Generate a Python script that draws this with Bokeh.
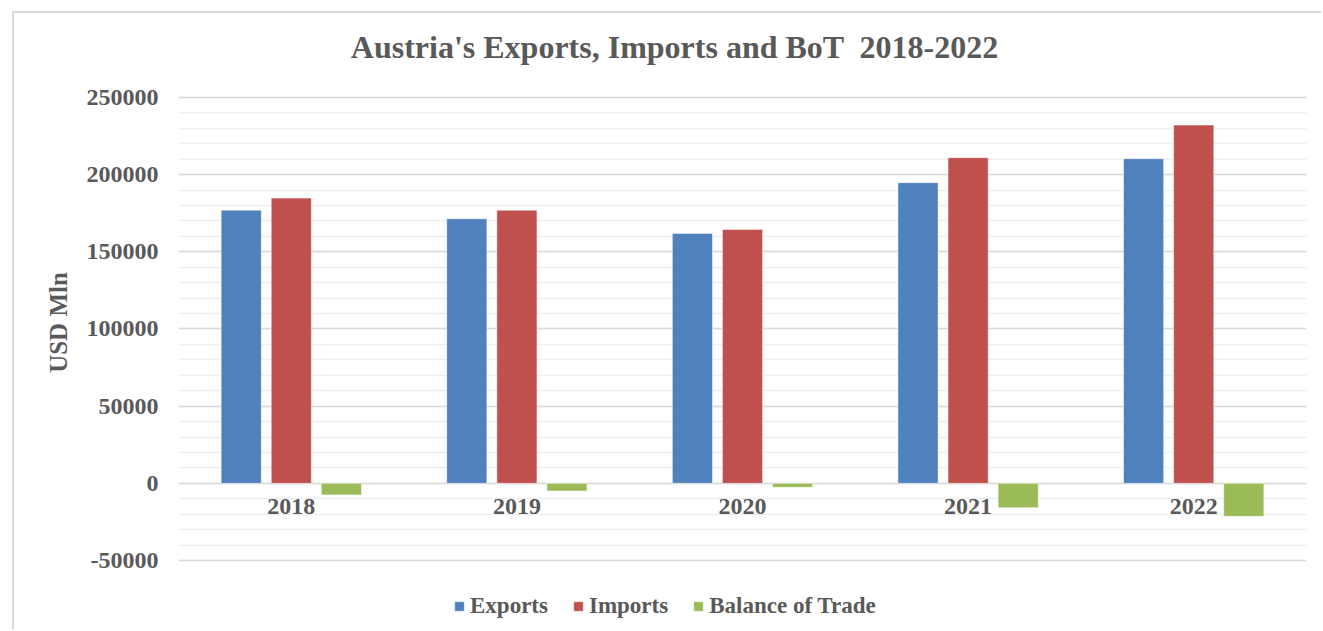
from bokeh.plotting import figure
from bokeh.models import (ColumnDataSource, FactorRange, Range1d, SingleIntervalTicker,
                          NumeralTickFormatter, Legend, LegendItem, Label)
from bokeh.transform import dodge
from bokeh.core.properties import value
from bokeh.embed import file_html
from bokeh.resources import INLINE

years = ["2018", "2019", "2020", "2021", "2022"]
exports = [177000, 171400, 161900, 194800, 210300]
imports = [184800, 177000, 164500, 211000, 232100]
balance = [-7500, -5000, -2600, -15800, -21400]
series_names = ["Exports", "Imports", "Balance of Trade"]
series_colors = ["#4F81BD", "#C0504D", "#9BBB59"]
title_text = "Austria's Exports, Imports and BoT \u00a02018-2022"
y_min, y_max = -50000, 250000

FONT = "Liberation Serif"
TXT = "#595959"

source = ColumnDataSource(dict(years=years, exports=exports, imports=imports, balance=balance,
                               zero=[0] * len(years)))

# the frame spans the full canvas height; grid and axis are bounded to the value range,
# leaving room inside the frame for the title (top) and the legend (bottom)
p = figure(width=1309, height=618, x_range=FactorRange(factors=years, range_padding=0),
           y_range=Range1d(-96000, 304400), output_backend="svg", toolbar_location=None,
           x_axis_location=None, min_border_left=164, min_border_right=17,
           min_border_top=0, min_border_bottom=0, outline_line_color=None,
           background_fill_color="white", border_fill_color="white")
p.margin = (11, 0, 0, 12)
p.styles = {"border-top": "2px solid #D9D9D9", "border-left": "2px solid #D9D9D9"}

p.add_layout(Label(x=2.2, y=282400, text=title_text, text_align="center",
                   text_baseline="middle", text_font=FONT, text_font_style="bold",
                   text_font_size="32px", text_color=TXT))

W = 0.178
OFF = 0.222
renderers = []
for col, off, color in zip(["exports", "imports", "balance"], [-OFF, 0, OFF], series_colors):
    r = p.vbar(x=dodge("years", off, range=p.x_range), top=col, bottom=0, width=W, source=source,
               fill_color=color, line_color="white", line_alpha=0.5, line_width=1)
    renderers.append(r)

# category labels just below zero line
p.text(x="years", y="zero", text="years", source=source, text_align="center",
       text_baseline="top", y_offset=16, text_font=value(FONT), text_font_style="bold",
       text_font_size="24px", text_color=TXT)

ticker = SingleIntervalTicker(interval=50000, num_minor_ticks=5)
p.yaxis.ticker = ticker
p.yaxis.bounds = (y_min, y_max)
p.yaxis.formatter = NumeralTickFormatter(format="0")
p.yaxis.axis_line_color = None
p.yaxis.major_tick_line_color = None
p.yaxis.minor_tick_line_color = None
p.yaxis.major_label_standoff = 14
p.yaxis.major_label_text_font = FONT
p.yaxis.major_label_text_font_style = "bold"
p.yaxis.major_label_text_font_size = "24px"
p.yaxis.major_label_text_color = TXT
p.yaxis.axis_label = "USD Mln"
p.yaxis.axis_label_text_font = FONT
p.yaxis.axis_label_text_font_style = "bold"
p.yaxis.axis_label_text_font_size = "25px"
p.yaxis.axis_label_text_color = TXT
p.yaxis.axis_label_standoff = 12

p.xgrid.grid_line_color = None
p.ygrid.ticker = ticker
p.ygrid.bounds = (y_min, y_max)
p.ygrid.grid_line_color = "#D9D9D9"
p.ygrid.grid_line_width = 1.5
p.ygrid.minor_grid_line_color = "#EEEEEE"
p.ygrid.minor_grid_line_width = 1.5

legend = Legend(items=[LegendItem(label=n, renderers=[r]) for n, r in zip(series_names, renderers)],
                orientation="horizontal", location=(275, 12), border_line_color=None,
                background_fill_alpha=0,
                label_text_font=FONT, label_text_font_style="bold", label_text_font_size="23px",
                label_text_color=TXT, glyph_width=12, glyph_height=12, spacing=24,
                label_standoff=5, padding=0, margin=0)
p.add_layout(legend, "center")

open("out.html", "w").write(file_html(p, INLINE))
